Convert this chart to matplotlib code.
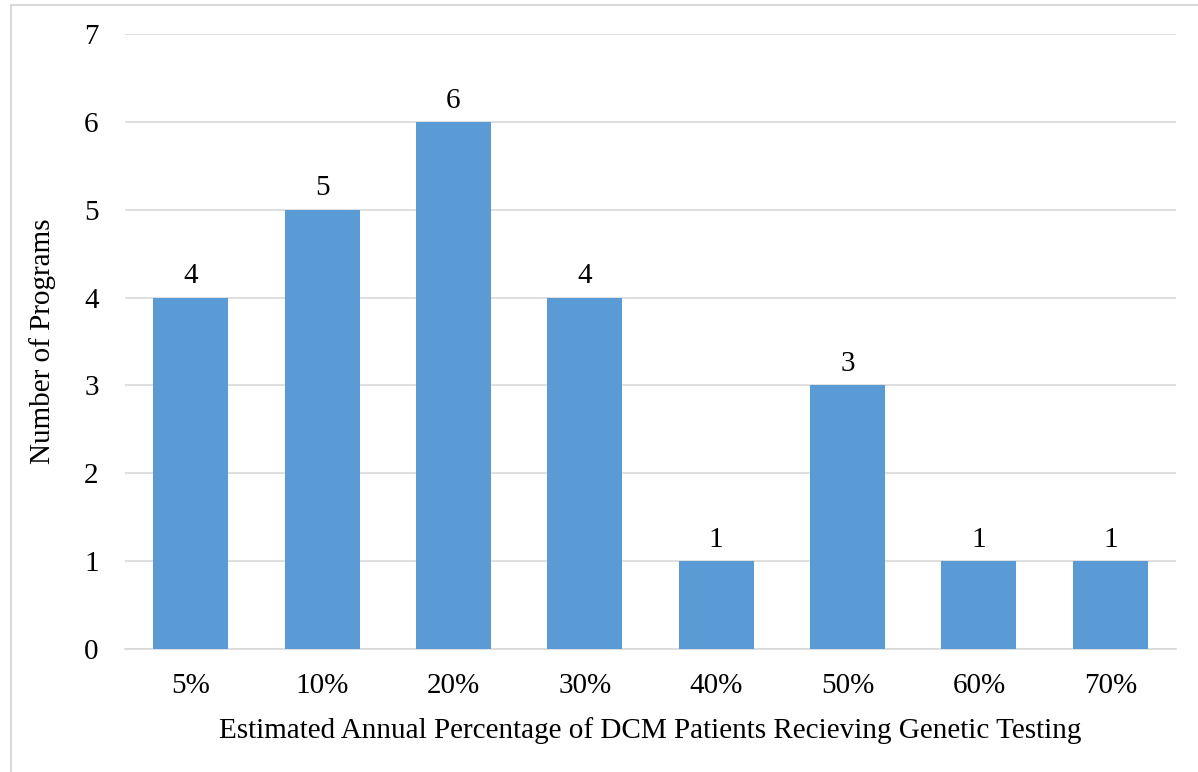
import matplotlib.pyplot as plt
from matplotlib.lines import Line2D

categories = ["5%", "10%", "20%", "30%", "40%", "50%", "60%", "70%"]
programs = [4, 5, 6, 4, 1, 3, 1, 1]

plt.rcParams["font.family"] = ["Liberation Serif", "DejaVu Serif"]
FS = 21

fig = plt.figure(figsize=(11.98, 7.72), dpi=100)
W, H = 1198, 772
ax = fig.add_axes([125 / W, 1 - 649 / H, (1176 - 125) / W, (649 - 34) / H])

x = range(len(categories))
bars = ax.bar(x, programs, width=0.571, color="#5B9BD5", zorder=3)
ax.bar_label(bars, padding=6, fontsize=FS)

ax.set_xlim(-0.5, len(categories) - 0.5)
ax.set_ylim(0, 7)
ax.set_yticks(range(8))
ax.set_xticks(list(x))
ax.set_xticklabels(categories)
ax.tick_params(axis="both", length=0, labelsize=FS)
ax.tick_params(axis="x", pad=17)
ax.tick_params(axis="y", pad=19)
ax.grid(axis="y", color="#D9D9D9", linewidth=1.2, zorder=0)
for side in ["top", "right", "left"]:
    ax.spines[side].set_visible(False)
ax.spines["bottom"].set_color("#D9D9D9")
ax.spines["bottom"].set_linewidth(1.2)

ax.set_xlabel("Estimated Annual Percentage of DCM Patients Recieving Genetic Testing",
              fontsize=FS, labelpad=13)
ax.set_ylabel("Number of Programs", fontsize=FS, labelpad=20)

# light chart-area frame (left and top edges visible in the reference)
fig.add_artist(Line2D([11 / W, 11 / W], [0, 1 - 5 / H], transform=fig.transFigure,
                      color="#D9D9D9", linewidth=1.5))
fig.add_artist(Line2D([11 / W, 1], [1 - 5 / H, 1 - 5 / H], transform=fig.transFigure,
                      color="#D9D9D9", linewidth=1.5))

fig.savefig("out.png", dpi=100)
